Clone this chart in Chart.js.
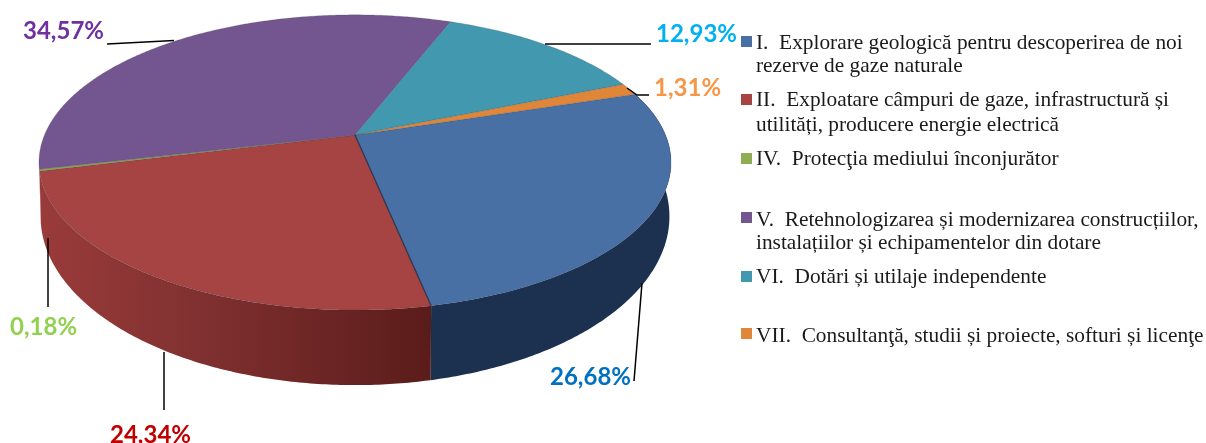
<!DOCTYPE html>
<html lang="ro">
<head>
  <meta charset="UTF-8">
  <title>Structura cheltuielilor</title>
  <script src="https://cdn.jsdelivr.net/npm/chart.js"></script>
  <style>
    html, body { margin: 0; padding: 0; background: #fff; overflow: hidden; }
    #wrap { position: relative; width: 1206px; height: 443px; overflow: hidden; }
    #pie { position: absolute; left: 0; top: 0; }
    .pct { position: absolute; font: bold 24px Lato, sans-serif; line-height: 23px; white-space: pre; }
    .leg { position: absolute; left: 756px; font: 21.35px "Liberation Serif", serif; line-height: 20px; color: #1a1a1a; white-space: pre; }
    .box { position: absolute; left: 741px; width: 11px; height: 11px; }
  </style>
</head>
<body>
  <div id="wrap"><canvas id="pie" width="1206" height="443"></canvas></div>

  <script>
    // Values as printed next to each slice, in drawing order
    var categories = [
      'I.  Explorare geologică pentru descoperirea de noi\nrezerve de gaze naturale',
      'II.  Exploatare câmpuri de gaze, infrastructură și\nutilități, producere energie electrică',
      'IV.  Protecţia mediului înconjurător',
      'V.  Retehnologizarea și modernizarea construcțiilor,\ninstalațiilor și echipamentelor din dotare',
      'VI.  Dotări și utilaje independente',
      'VII.  Consultanţă, studii și proiecte, softuri și licenţe'
    ];
    var shares = [26.68, 24.34, 0.18, 34.57, 12.93, 1.31];
    var sliceColors = ['#4870a5', '#a54442', '#8fad52', '#73568f', '#4198af', '#df8639'];
    var labelColors = ['#0070c0', '#c00000', '#92d050', '#7030a0', '#00b0f0', '#f79646'];

    // Where the html text goes, same order as categories
    var labelPos = [[550, 364], [110, 422], [10, 314], [23, 18], [656, 21], [654, 75]];
    var legendBaselines = [[48, 71], [105, 130], [164], [225, 248], [282], [341]];
    var legendBoxTop = [36, 94, 153, 212, 271, 328];

    // Perspective of the pie top: far side squeezed, near side stretched
    var RX = 310.5, RY = 142.5, TILT = 0.186;
    var DEPTH = 50, DEPTH_STRETCH = 1.143;

    function project(cx, cy, t, lower) {
      var X = Math.cos(t), Y = Math.sin(t), w = 1 - TILT * Y;
      var u = RX * X / w, v = RY * Y / w;
      if (lower) { v = v * DEPTH_STRETCH + DEPTH; u = u * 0.995; }
      return [cx + u, cy + v];
    }

    function tracePath(ctx, cx, cy, from, to, lower, first) {
      var n = Math.max(2, Math.ceil(Math.abs(to - from) / 0.01));
      for (var i = 0; i <= n; i++) {
        var p = project(cx, cy, from + (to - from) * i / n, lower);
        if (i === 0 && first) ctx.moveTo(p[0], p[1]); else ctx.lineTo(p[0], p[1]);
      }
    }

    var pie3d = {
      id: 'pie3d',
      beforeDatasetsDraw: function(chart) {
        var ctx = chart.ctx, arcs = chart.getDatasetMeta(0).data;
        var wallMin = -0.35, wallMax = Math.PI * 0.93;

        // side wall, only the front half can be seen
        arcs.forEach(function(arc, i) {
          var a = arc.startAngle, b = arc.endAngle;
          var from = Math.max(a, wallMin), to = Math.min(b, wallMax);
          if (to <= from) return;
          var g = ctx.createLinearGradient(38, 0, 430, 0);
          if (i === 0) {
            g.addColorStop(0, '#1c3150');
            g.addColorStop(1, '#1c3150');
          } else {
            g.addColorStop(0, '#9a3b3a');
            g.addColorStop(0.35, '#843232');
            g.addColorStop(1, '#5a1c1a');
          }
          ctx.beginPath();
          tracePath(ctx, arc.x, arc.y, from, to, false, true);
          tracePath(ctx, arc.x, arc.y, to, from, true, false);
          ctx.closePath();
          ctx.fillStyle = g;
          ctx.fill();
        });

        // top face
        arcs.forEach(function(arc, i) {
          ctx.beginPath();
          ctx.moveTo(arc.x, arc.y);
          tracePath(ctx, arc.x, arc.y, arc.startAngle, arc.endAngle, false, false);
          ctx.closePath();
          ctx.fillStyle = sliceColors[i];
          ctx.fill();
          ctx.strokeStyle = 'rgba(60,60,70,0.35)';
          ctx.lineWidth = 0.6;
          ctx.stroke();
        });

        // dark seam between the two big front slices
        var seam = project(arcs[0].x, arcs[0].y, arcs[0].endAngle, false);
        ctx.beginPath();
        ctx.moveTo(arcs[0].x, arcs[0].y);
        ctx.lineTo(seam[0], seam[1]);
        ctx.strokeStyle = 'rgba(30,45,75,0.8)';
        ctx.lineWidth = 1.3;
        ctx.stroke();

        // leader lines
        var leaders = [
          [[642, 283], [634, 381]],
          [[164, 352], [164, 410]],
          [[48, 238], [48, 307]],
          [[107, 44], [174, 40.5]],
          [[545, 44], [651, 44]],
          [[627, 88], [637, 95], [649, 95]]
        ];
        ctx.strokeStyle = '#000';
        ctx.lineWidth = 1.5;
        leaders.forEach(function(l) {
          ctx.beginPath();
          l.forEach(function(p, k) { if (k) ctx.lineTo(p[0], p[1]); else ctx.moveTo(p[0], p[1]); });
          ctx.stroke();
        });
        return false;
      }
    };

    new Chart(document.getElementById('pie'), {
      type: 'pie',
      data: {
        labels: categories,
        datasets: [{ data: shares, backgroundColor: sliceColors, borderWidth: 0 }]
      },
      options: {
        responsive: false,
        animation: false,
        rotation: 72.4,
        layout: { padding: { left: 0, top: 0, right: 496, bottom: 173 } },
        plugins: { legend: { display: false }, tooltip: { enabled: false } }
      },
      plugins: [pie3d]
    });

    // Percent labels and the legend as html text
    var wrap = document.getElementById('wrap');
    shares.forEach(function(v, i) {
      var d = document.createElement('div');
      d.className = 'pct';
      d.textContent = v.toFixed(2).replace('.', ',') + '%';
      d.style.left = labelPos[i][0] + 'px';
      d.style.top = labelPos[i][1] + 'px';
      d.style.color = labelColors[i];
      wrap.appendChild(d);

      var box = document.createElement('div');
      box.className = 'box';
      box.style.top = legendBoxTop[i] + 'px';
      box.style.background = sliceColors[i];
      wrap.appendChild(box);

      categories[i].split('\n').forEach(function(line, k) {
        var t = document.createElement('div');
        t.className = 'leg';
        t.textContent = line;
        t.style.top = (legendBaselines[i][k] - 16) + 'px';
        wrap.appendChild(t);
      });
    });
  </script>
</body>
</html>
